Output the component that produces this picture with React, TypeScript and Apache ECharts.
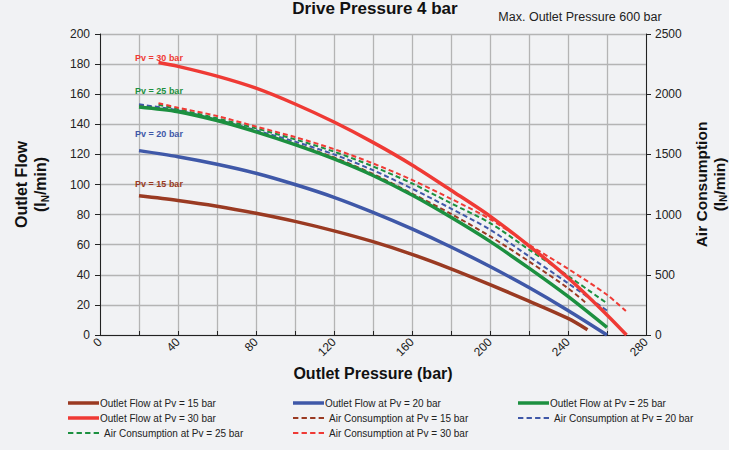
import React, { useEffect, useRef } from "react";
import * as echarts from "echarts";

// ---------- data ----------
const outletP15 = [20, 40, 60, 80, 100, 120, 140, 160, 180, 200, 220, 240, 250];
const outletFlow15 = [92.5, 89.4, 85.6, 80.9, 75.5, 69.2, 62, 53.6, 44, 33.5, 22.5, 11, 3.5];

const outletP20 = [20, 40, 60, 80, 100, 120, 140, 160, 180, 200, 220, 240, 260];
const outletFlow20 = [122.5, 118.5, 113.5, 107.5, 100, 91.5, 81.5, 70.5, 58.5, 45.5, 31.5, 16.3, 0];

const outletP25 = [20, 40, 60, 80, 100, 120, 140, 160, 180, 200, 220, 240, 260];
const outletFlow25 = [151.5, 148.4, 142.5, 135, 126.5, 117, 106, 93, 78.2, 62.2, 44.4, 25.6, 5];

const outletP30 = [30, 40, 60, 80, 100, 120, 140, 160, 180, 200, 220, 240, 260, 270];
const outletFlow30 = [181, 178.5, 172, 164, 153.5, 141.5, 128, 113, 96.2, 79, 59.3, 38, 13.3, 0];

const airP15 = [20, 40, 60, 80, 100, 120, 140, 160, 180, 200, 220, 240, 250];
const air15 = [1906, 1861, 1781, 1689, 1588, 1475, 1338, 1175, 1006, 820, 611, 389, 256];

const airP20 = [20, 40, 60, 80, 100, 120, 140, 160, 180, 200, 220, 240, 260];
const air20 = [1916, 1866, 1788, 1700, 1606, 1500, 1369, 1216, 1050, 875, 653, 430, 203];

const airP25 = [30, 40, 60, 80, 100, 120, 140, 160, 180, 200, 220, 240, 260];
const air25 = [1913, 1875, 1800, 1716, 1625, 1523, 1400, 1259, 1094, 930, 709, 491, 263];

const airP30 = [30, 40, 60, 80, 100, 120, 140, 160, 180, 200, 220, 240, 260, 270];
const air30 = [1925, 1888, 1819, 1731, 1644, 1544, 1425, 1288, 1131, 963, 750, 550, 334, 194];

const pvNames = ["Pv = 15 bar", "Pv = 20 bar", "Pv = 25 bar", "Pv = 30 bar"];
const pvLabelX = 18;
const pvLabelY = [100.3, 133.6, 162, 184];

const colors = ["#9a3a22", "#3f58a8", "#1c9040", "#ef3a35"];
const FONT = "'Liberation Sans', Arial, sans-serif";

const SOLID_ICON = "path://M0,0h31v3.5h-31z";
const DASH_ICON = "path://M0,0h5v2h-5zM8,0h5v2h-5zM16,0h5v2h-5zM24,0h5v2h-5z";

const zip = (xs: number[], ys: number[]) => xs.map((x, i) => [x, ys[i]]);

export default function App() {
  const ref = useRef<HTMLDivElement>(null);

  useEffect(() => {
    if (!ref.current) return;
    const chart = echarts.init(ref.current, null, { renderer: "svg" });

    const outlet = [
      [outletP15, outletFlow15],
      [outletP20, outletFlow20],
      [outletP25, outletFlow25],
      [outletP30, outletFlow30],
    ];
    const air = [
      [airP15, air15],
      [airP20, air20],
      [airP25, air25],
      [airP30, air30],
    ];

    const series: any[] = [];
    outlet.forEach(([xs, ys], i) => {
      series.push({
        name: "Outlet Flow at " + pvNames[i],
        type: "line",
        data: zip(xs as number[], ys as number[]),
        symbol: "none",
        smooth: 0.3,
        yAxisIndex: 0,
        z: 3,
        lineStyle: { color: colors[i], width: 3.5, cap: "butt" },
        itemStyle: { color: colors[i] },
        markPoint: {
          symbol: "circle",
          symbolSize: 0,
          silent: true,
          data: [{ coord: [pvLabelX, pvLabelY[i]] }],
          label: {
            show: true,
            position: "right",
            distance: 0,
            formatter: pvNames[i],
            color: colors[i],
            fontFamily: FONT,
            fontWeight: "bold",
            fontSize: 9,
          },
        },
      });
    });
    air.forEach(([xs, ys], i) => {
      series.push({
        name: "Air Consumption at " + pvNames[i],
        type: "line",
        data: zip(xs as number[], ys as number[]),
        symbol: "none",
        smooth: 0.3,
        yAxisIndex: 1,
        z: 2,
        lineStyle: { color: colors[i], width: 2, type: [5, 3] },
        itemStyle: { color: colors[i] },
      });
    });

    const legendBase = {
      orient: "vertical",
      top: 398,
      itemWidth: 31,
      itemHeight: 12,
      itemGap: 5,
      padding: 0,
      textStyle: { fontFamily: FONT, fontSize: 10, color: "#222" },
    };
    const item = (name: string) => {
      const solid = name.startsWith("Outlet");
      return {
        name,
        icon: solid ? SOLID_ICON : DASH_ICON,
        textStyle: { padding: solid ? [0, 0, 0, -4] : [0, 0, 0, 0] },
      };
    };

    const nameRich = {
      sub: { fontSize: 10, fontWeight: "bold", fontFamily: FONT, color: "#111", verticalAlign: "bottom", padding: [6, 0, 0, 0] },
    };

    chart.setOption({
      animation: false,
      backgroundColor: "#f1f2f4",
      textStyle: { fontFamily: FONT },
      graphic: [
        {
          type: "text",
          x: 375,
          y: 0,
          style: {
            text: "Drive Pressure 4 bar",
            font: "bold 17px " + FONT,
            fill: "#111",
            textAlign: "center",
            textVerticalAlign: "top",
          },
        },
        {
          type: "text",
          x: 580,
          y: 17,
          style: {
            text: "Max. Outlet Pressure 600 bar",
            font: "12.5px " + FONT,
            fill: "#222",
            textAlign: "center",
            textVerticalAlign: "middle",
          },
        },
      ],
      grid: { left: 100, right: 83, top: 34, bottom: 115, containLabel: false, outerBoundsMode: "none" },
      legend: [
        {
          ...legendBase,
          left: 68,
          data: ["Outlet Flow at Pv = 15 bar", "Outlet Flow at Pv = 30 bar", "Air Consumption at Pv = 25 bar"].map(item),
        },
        {
          ...legendBase,
          left: 293,
          data: ["Outlet Flow at Pv = 20 bar", "Air Consumption at Pv = 15 bar", "Air Consumption at Pv = 30 bar"].map(item),
        },
        {
          ...legendBase,
          left: 518,
          data: ["Outlet Flow at Pv = 25 bar", "Air Consumption at Pv = 20 bar"].map(item),
        },
      ],
      xAxis: {
        type: "value",
        min: 0,
        max: 280,
        interval: 20,
        name: "Outlet Pressure (bar)",
        nameLocation: "middle",
        nameGap: 27,
        nameTextStyle: { fontFamily: FONT, fontWeight: "bold", fontSize: 16, color: "#111" },
        axisLine: { show: true, lineStyle: { color: "#222", width: 1 } },
        axisTick: { show: true, inside: true, length: 4, lineStyle: { color: "#222" } },
        axisLabel: {
          rotate: 45,
          fontSize: 12,
          color: "#222",
          margin: 5,
          fontFamily: FONT,
          formatter: (v: number) => (v % 40 === 0 ? String(v) : ""),
        },
        splitLine: { show: true, lineStyle: { color: "#b4b4b4", width: 1.3 } },
      },
      yAxis: [
        {
          type: "value",
          min: 0,
          max: 200,
          interval: 20,
          position: "left",
          name: "Outlet Flow\n(l{sub|N}/min)",
          nameLocation: "middle",
          nameGap: 50,
          nameTextStyle: {
            fontFamily: FONT,
            fontWeight: "bold",
            fontSize: 16,
            color: "#111",
            lineHeight: 19,
            rich: nameRich,
          },
          axisLine: { show: true, lineStyle: { color: "#222", width: 1 } },
          axisTick: { show: true, length: 5, lineStyle: { color: "#222" } },
          axisLabel: { fontSize: 12, color: "#222", margin: 10, fontFamily: FONT },
          splitLine: { show: true, lineStyle: { color: "#b4b4b4", width: 1.3 } },
        },
        {
          type: "value",
          min: 0,
          max: 2500,
          interval: 500,
          position: "right",
          name: "Air Consumption\n(l{sub|N}/min)",
          nameLocation: "middle",
          nameGap: 39,
          nameTextStyle: {
            fontFamily: FONT,
            fontWeight: "bold",
            fontSize: 15.5,
            color: "#111",
            lineHeight: 18,
            rich: nameRich,
          },
          axisLine: { show: true, lineStyle: { color: "#222", width: 1 } },
          axisTick: { show: true, length: 5, lineStyle: { color: "#222" } },
          axisLabel: {
            fontSize: 12,
            color: "#222",
            margin: 9,
            fontFamily: FONT,
            formatter: (v: number) => String(v),
          },
          splitLine: { show: false },
        },
      ],
      series,
    });

    return () => chart.dispose();
  }, []);

  return (
    <div
      ref={ref}
      style={{ position: "absolute", left: 0, top: 0, width: 729, height: 450, background: "#f1f2f4" }}
    />
  );
}
